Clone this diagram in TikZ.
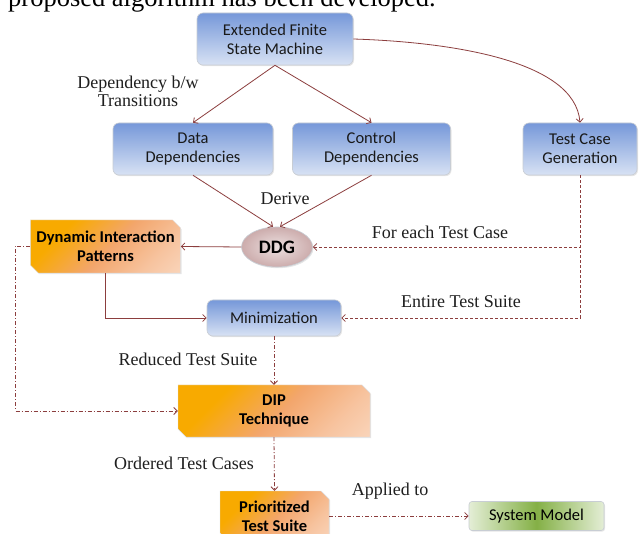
\documentclass[tikz,border=0pt]{standalone}
\usepackage{fontspec}
\newfontfamily\calfont{Carlito}
\newfontfamily\serfont{Liberation Serif}
\usetikzlibrary{shapes.misc,shapes.geometric,arrows.meta,shadows}
\definecolor{conn}{RGB}{140,62,62}
\definecolor{blueT}{RGB}{118,152,217}
\definecolor{blueB}{RGB}{216,226,244}
\definecolor{orA}{RGB}{248,170,0}
\definecolor{orB}{RGB}{243,166,108}
\definecolor{orC}{RGB}{252,230,214}
\definecolor{orBC}{RGB}{247,196,160}
\definecolor{ddgIn}{RGB}{236,224,224}
\definecolor{ddgOut}{RGB}{204,172,172}
\definecolor{grL}{RGB}{228,238,214}
\definecolor{grD}{RGB}{132,176,70}
\definecolor{edgec}{RGB}{200,205,212}
\pgfdeclarehorizontalshading{orsh}{100bp}{color(0bp)=(orA); color(30bp)=(orA); color(52bp)=(orB); color(72bp)=(orBC); color(100bp)=(orC)}
\begin{document}
\begin{tikzpicture}[x=1pt,y=-1pt,
  shadowed/.style={drop shadow={opacity=0.2, shadow xshift=1pt, shadow yshift=-1.2pt}},
  bluebox/.style={rectangle, rounded corners=6pt, draw=edgec, line width=0.6pt,
    top color=blueT, bottom color=blueB, text=black!90, align=center, inner sep=2pt,
    font=\calfont\fontsize{16.5}{19}\selectfont, shadowed},
  orbox/.style={chamfered rectangle, chamfered rectangle corners={north east,south west},
    chamfered rectangle xsep=4pt, chamfered rectangle ysep=4pt, draw=edgec!60, line width=0.4pt,
    shade, shading=orsh, shading angle=-45,
    text=black, align=center, inner sep=2pt,
    font=\calfont\bfseries\fontsize{16.5}{19}\selectfont, shadowed},
  greenbox/.style={rectangle, rounded corners=3pt, draw=edgec, line width=0.6pt,
    left color=grL, right color=grL, middle color=grD, text=black, inner sep=2pt,
    font=\calfont\fontsize{16.5}{19}\selectfont, shadowed},
  ddgshape/.style={ellipse, inner sep=0pt, draw=edgec, line width=0.6pt,
    inner color=ddgIn, outer color=ddgOut, text=black,
    font=\calfont\bfseries\fontsize{19}{22}\selectfont, shadowed},
  lbl/.style={font=\serfont\fontsize{18}{18}\selectfont, text=black!88, align=center, inner sep=0pt},
  conline/.style={draw=conn, line width=0.8pt, -{Straight Barb[length=3.5pt,width=7pt]}},
  dashc/.style={conline, dash pattern=on 3pt off 2pt},
  dotdash/.style={conline, dash pattern=on 4pt off 2pt on 1pt off 2pt}
]
\fill[white] (0,0) rectangle (640,534);
\useasboundingbox (0,0) rectangle (640,534);

\node[anchor=base west, inner sep=0pt, font=\serfont\fontsize{26.5}{30}\selectfont] (toptext) at (8,7) {proposed algorithm has been developed.};

\node[bluebox, minimum width=156pt, minimum height=52pt] (efsm) at (275,39) {Extended Finite\\State Machine};
\node[bluebox, minimum width=160pt, minimum height=52pt] (data) at (193,149) {Data\\Dependencies};
\node[bluebox, minimum width=158pt, minimum height=52pt] (ctrl) at (371.5,149) {Control\\Dependencies};
\node[bluebox, minimum width=114pt, minimum height=52pt] (tcg) at (580,149) {Test Case\\Generation};
\node[ddgshape, minimum width=71pt, minimum height=40pt] (ddg) at (277,247) {DDG};
\node[orbox, minimum width=149pt, minimum height=53pt] (dipat) at (105.5,246.5) {Dynamic Interaction\\Patterns};
\node[bluebox, minimum width=134pt, minimum height=36pt] (mini) at (274,318) {Minimization};
\node[orbox, minimum width=192pt, minimum height=52pt] (diptech) at (274,411) {DIP\\Technique};
\node[orbox, minimum width=109pt, minimum height=50pt] (prio) at (274.5,516) {Prioritized\\Test Suite};
\node[greenbox, minimum width=135pt, minimum height=29pt] (sysm) at (536.5,516) {System Model};

\draw[conline] (efsm.south) -- (data.north);
\draw[conline] (efsm.south) -- (ctrl.north);
\draw[conline] (efsm.east) .. controls +(95,3) and +(-5,-63) .. (tcg.north);
\draw[conline] (data.south) -- ([xshift=-4pt]ddg.north);
\draw[conline] (ctrl.south) -- ([xshift=3pt]ddg.north);
\draw[conline] (ddg.west) -- (dipat.east);
\draw[dashc] (tcg.south) |- (ddg.east);
\draw[dashc] (tcg.south) |- (mini.east);
\draw[conline] (dipat.south) |- (mini.west);
\draw[dotdash] (dipat.west) -- ++(-15,0) |- (diptech.west);
\draw[dotdash] (mini.south) -- (diptech.north);
\draw[dotdash] (diptech.south) -- (prio.north);
\draw[dotdash] (prio.east) -- (sysm.west);

\node[lbl] (l1) at (138,91) {Dependency b/w\\Transitions};
\node[lbl] (l2) at (285,199) {Derive};
\node[lbl] (l3) at (440,232) {For each Test Case};
\node[lbl] (l4) at (461,302) {Entire Test Suite};
\node[lbl] (l5) at (188,359) {Reduced Test Suite};
\node[lbl] (l6) at (184,463) {Ordered Test Cases};
\node[lbl] (l7) at (390,491) {Applied to};
\end{tikzpicture}
\end{document}
